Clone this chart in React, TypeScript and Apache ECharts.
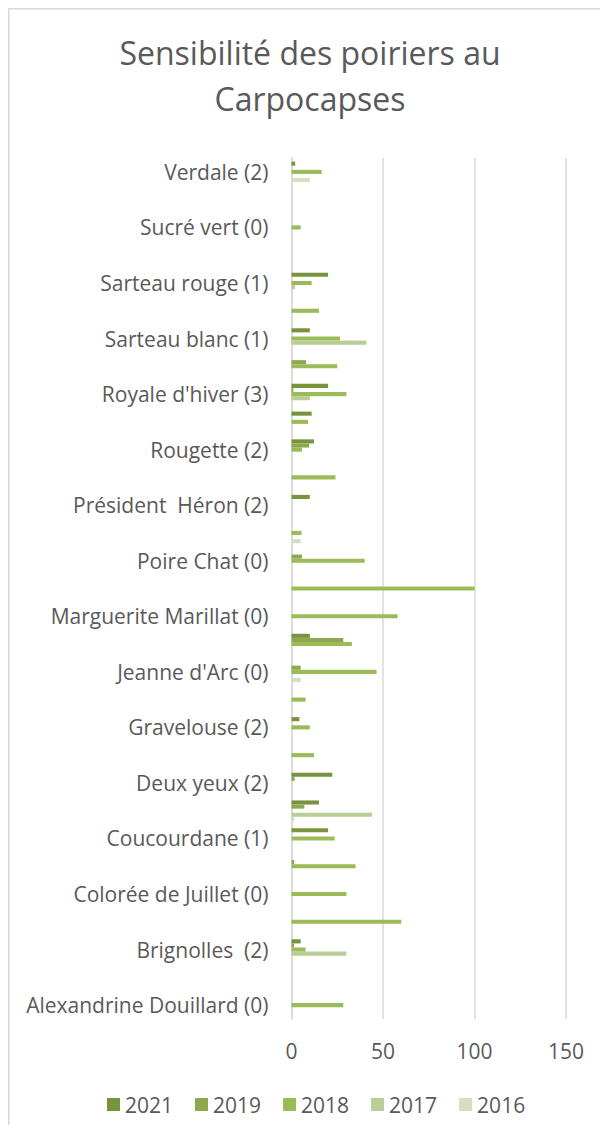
import React, { useEffect, useRef } from "react";
import * as echarts from "echarts";

const categories = [
  "Alexandrine Douillard (0)", "", "Brignolles  (2)", "", "Colorée de Juillet (0)", "",
  "Coucourdane (1)", "", "Deux yeux (2)", "", "Gravelouse (2)", "", "Jeanne d'Arc (0)", "",
  "Marguerite Marillat (0)", "", "Poire Chat (0)", "", "Président  Héron (2)", "",
  "Rougette (2)", "", "Royale d'hiver (3)", "", "Sarteau blanc (1)", "", "Sarteau rouge (1)", "",
  "Sucré vert (0)", "", "Verdale (2)",
];

const s2021 = [null, null, 5, null, null, null, 20, 15, 22.3, null, 4.3, null, null, 10, null, null, null, null, 10, null, 12.3, 11, 20, null, 10, null, 20, null, null, null, 2];
const s2019 = [null, null, 1.4, null, null, 1.5, null, 7, 1.7, null, null, null, 5, 28.3, null, null, 5.7, null, null, null, 9.6, null, 1, 8, null, null, null, null, null, null, null];
const s2018 = [28.3, null, 7.7, 60, 30, 35, 23.6, null, null, 12.3, 10, 7.7, 46.5, 33, 58, 100, 40, 5.5, null, 24, 5.7, 9, 30, 25, 26.5, 15, 11, null, 5, null, 16.5];
const s2017 = [null, null, 30, null, null, null, null, 44, null, null, null, null, null, null, null, null, null, null, null, null, null, null, 10, null, 41, null, 2, null, null, null, null];
const s2016 = [null, null, null, null, null, null, null, 1.5, null, null, null, null, 5, null, null, null, null, 5, null, null, null, null, null, null, null, null, null, null, null, null, 10];

const seriesNames = ["2021", "2019", "2018", "2017", "2016"];
const seriesValues = [s2021, s2019, s2018, s2017, s2016];
const seriesColors = ["#77933C", "#8CA94D", "#9BBB59", "#B9CD96", "#D3DFC0"];
const xTicks = { min: 0, max: 150, interval: 50 };

const FONT = "'Open Sans', 'Noto Sans', sans-serif";
const TXT = "#595959";

export default function App() {
  const ref = useRef<HTMLDivElement>(null);
  useEffect(() => {
    if (!ref.current) return;
    const chart = echarts.init(ref.current, undefined, { renderer: "svg" });
    chart.setOption({
      animation: false,
      textStyle: { fontFamily: FONT },
      graphic: [
        {
          type: "rect",
          shape: { x: 0.75, y: 0.75, width: 900, height: 1500 },
          style: { fill: "none", stroke: "#D9D9D9", lineWidth: 1.5 },
          silent: true,
        },
        {
          type: "text",
          x: 302,
          y: 44,
          style: { text: "Sensibilité des poiriers au", fontSize: 32, fontFamily: FONT, fill: TXT, textAlign: "center", textVerticalAlign: "middle" },
        },
        {
          type: "text",
          x: 302,
          y: 90,
          style: { text: "Carpocapses", fontSize: 32, fontFamily: FONT, fill: TXT, textAlign: "center", textVerticalAlign: "middle" },
        },
      ],
      legend: {
        data: seriesNames,
        left: 94,
        top: 1081,
        itemWidth: 13,
        itemHeight: 13,
        itemGap: 22,
        icon: "rect",
        textStyle: { fontSize: 21, color: TXT, fontFamily: FONT },
      },
      grid: { left: 283.5, right: 42, top: 150, bottom: 106, containLabel: false },
      xAxis: {
        type: "value",
        min: xTicks.min,
        max: xTicks.max,
        interval: xTicks.interval,
        axisLine: { show: false },
        axisTick: { show: false },
        axisLabel: { fontSize: 21, color: TXT, margin: 21, fontFamily: FONT },
        splitLine: { show: true, lineStyle: { color: "#D9D9D9", width: 1.5 } },
      },
      yAxis: {
        type: "category",
        data: categories,
        axisLine: { show: true, lineStyle: { color: "#D9D9D9", width: 1.5 } },
        axisTick: { show: false },
        axisLabel: { interval: 1, fontSize: 21, color: TXT, margin: 23, fontFamily: FONT },
      },
      series: seriesNames.map((name, i) => ({
        name,
        type: "bar",
        data: seriesValues[i],
        itemStyle: { color: seriesColors[i] },
        barGap: "0%",
        barCategoryGap: "26%",
      })),
    });
    return () => chart.dispose();
  }, []);
  return <div ref={ref} style={{ width: 600, height: 1117 }} />;
}
